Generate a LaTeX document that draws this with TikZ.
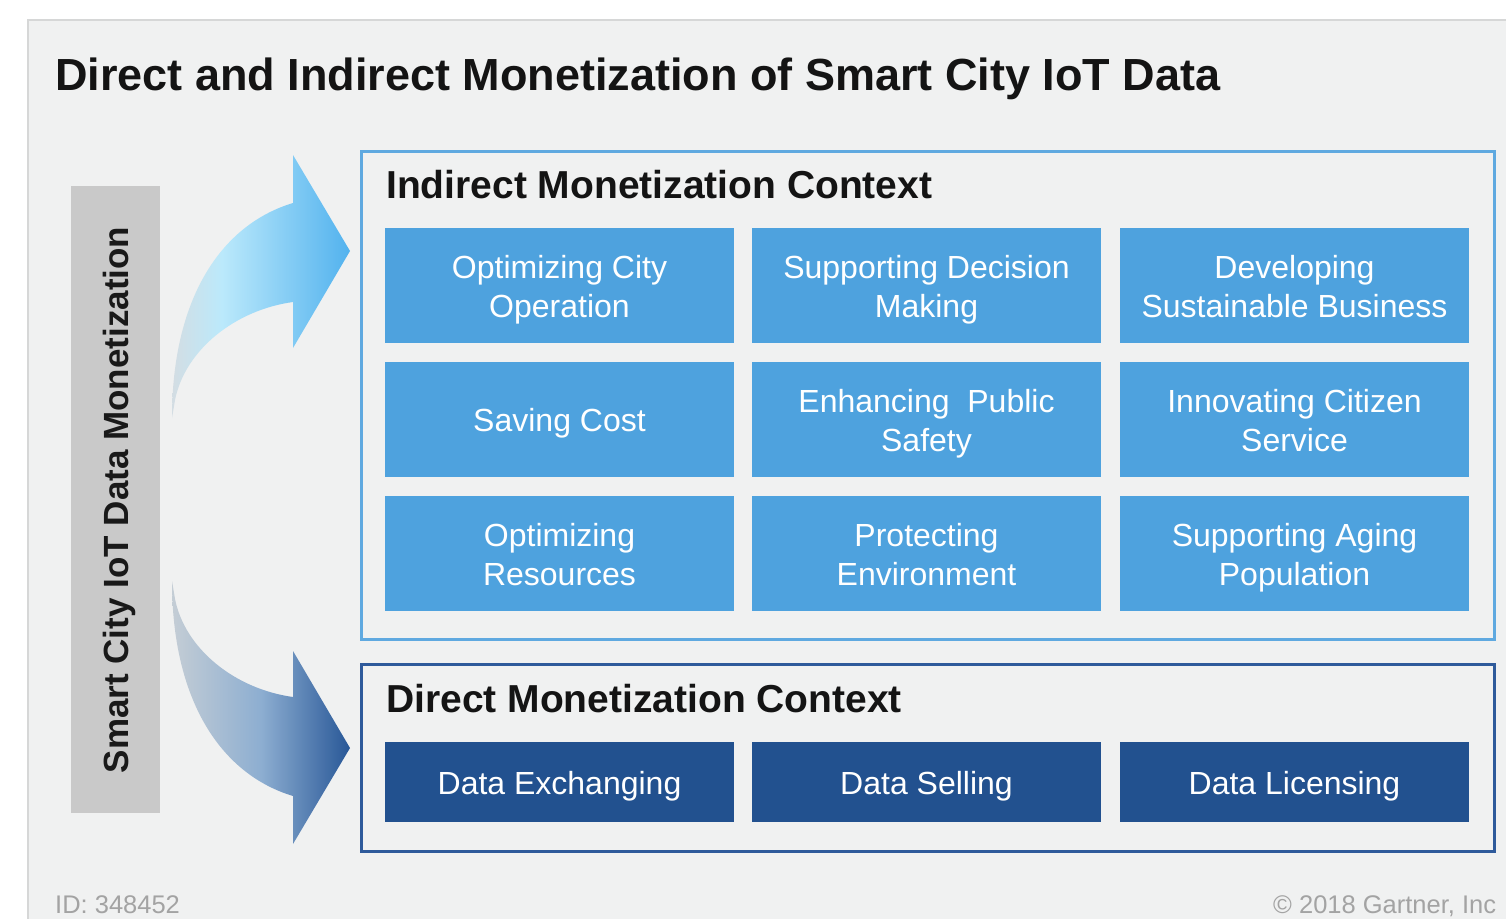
\documentclass[tikz,border=0pt]{standalone}
\usepackage{fontspec}
\setmainfont{Liberation Sans}
\usepackage{tikz}
\definecolor{panelgray}{HTML}{F0F1F1}
\definecolor{panelline}{HTML}{D6D7D7}
\definecolor{bargray}{HTML}{C9C9C9}
\definecolor{lightblue}{HTML}{4EA2DE}
\definecolor{darkblue}{HTML}{22518F}
\definecolor{lightframe}{HTML}{5FA9E0}
\definecolor{darkframe}{HTML}{2E5A9B}
\definecolor{upL}{HTML}{D3DDE3}
\definecolor{upM}{HTML}{BBE9FB}
\definecolor{upR}{HTML}{52B2EE}
\definecolor{loL}{HTML}{C4CDD5}
\definecolor{loM}{HTML}{8DAED1}
\definecolor{loR}{HTML}{285797}
\definecolor{notegray}{HTML}{A3A3A3}
\pgfdeclarehorizontalshading{upfade}{100bp}{color(0bp)=(upL); color(25bp)=(upL); color(39bp)=(upM); color(75bp)=(upR); color(100bp)=(upR)}
\pgfdeclarehorizontalshading{lofade}{100bp}{color(0bp)=(loL); color(25bp)=(loL); color(50bp)=(loM); color(75bp)=(loR); color(100bp)=(loR)}
\newcommand{\linestrut}{\rule[-7.5pt]{0pt}{39pt}}

\begin{document}
\begin{tikzpicture}
            [x=1pt, y=-1pt, every node/.style={inner sep=0pt},
             tile/.style={minimum width=349pt, minimum height=115pt, fill=lightblue, text=white, align=center, font=\fontsize{32}{39}\selectfont},
             dtile/.style={tile, minimum height=80pt, fill=darkblue},
             head/.style={anchor=base west, text=black!92, font=\fontsize{39}{46}\selectfont\bfseries},
             note/.style={anchor=base west, text=notegray, font=\fontsize{25.5}{30}\selectfont}]
                \fill [white] (0,0) rectangle (1506,918);
                \useasboundingbox (0,0) rectangle (1506,918);
                \filldraw [fill=panelgray, draw=panelline, line width=2pt] (28,20) rectangle (1540,950);
                \node (title) [anchor=base west, text=black!92, font=\fontsize{45}{52}\selectfont\bfseries] at (55, 90) {Direct and Indirect Monetization of Smart City IoT Data};
                \fill [bargray] (71,186) rectangle (160,813);
                \node (side) [anchor=base, rotate=90, text=black!90, font=\fontsize{35}{42}\selectfont\bfseries] at (128, 500) {Smart City IoT Data Monetization};
                \shade [shading=upfade] (172,418) .. controls (172,300) and (220,225) .. (293,203) -- (293,155) -- (350,251) -- (293,348) -- (293,302) .. controls (235,310) and (185,350) .. (175,400) -- cycle;
                \shade [shading=lofade] (172,581) .. controls (172,699) and (220,774) .. (293,796) -- (293,844) -- (350,748) -- (293,651) -- (293,697) .. controls (235,689) and (185,649) .. (175,599) -- cycle;
                \draw [lightframe, line width=3pt] (361,151) rectangle (1494,639);
                \node (ind) [head] at (386, 198) {Indirect Monetization Context};
                \node (1) [tile] at (559.5, 285.5) {\linestrut Optimizing City\\\linestrut Operation};
                \node (2) [tile] at (926.5, 285.5) {\linestrut Supporting Decision\\\linestrut Making};
                \node (3) [tile] at (1294.5, 285.5) {\linestrut Developing\\\linestrut Sustainable Business};
                \node (4) [tile] at (559.5, 419.5) {\linestrut Saving Cost};
                \node (5) [tile] at (926.5, 419.5) {\linestrut Enhancing\ \ Public\\\linestrut Safety};
                \node (6) [tile] at (1294.5, 419.5) {\linestrut Innovating Citizen\\\linestrut Service};
                \node (7) [tile] at (559.5, 553.5) {\linestrut Optimizing\\\linestrut Resources};
                \node (8) [tile] at (926.5, 553.5) {\linestrut Protecting\\\linestrut Environment};
                \node (9) [tile] at (1294.5, 553.5) {\linestrut Supporting Aging\\\linestrut Population};
                \draw [darkframe, line width=3pt] (361,664) rectangle (1494,851);
                \node (dir) [head] at (386, 712) {Direct Monetization Context};
                \node (10) [dtile] at (559.5, 782) {\linestrut Data Exchanging};
                \node (11) [dtile] at (926.5, 782) {\linestrut Data Selling};
                \node (12) [dtile] at (1294.5, 782) {\linestrut Data Licensing};
                \node (id) [note] at (55, 913) {ID: 348452};
                \node (copy) [note] at (1273, 913) {\textcopyright\ 2018 Gartner, Inc};
            \end{tikzpicture}
\end{document}
